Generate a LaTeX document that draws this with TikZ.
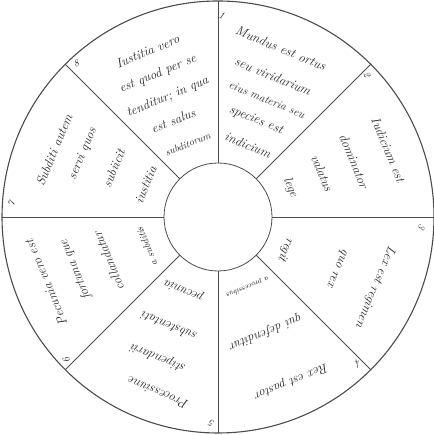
\documentclass[tikz,border=0pt]{standalone}
\usepackage{tikz}
\usetikzlibrary{calc}
\begin{document}
\begin{tikzpicture}[x=1pt, y=1pt,
    verse/.style={font=\fontsize{13}{15}\selectfont\itshape, text=black!85, inner sep=0pt},
    small verse/.style={verse, font=\fontsize{10}{12}\selectfont\itshape},
    tiny verse/.style={verse, font=\fontsize{7.5}{9}\selectfont\itshape},
    numeral/.style={font=\fontsize{10}{11}\selectfont\itshape, text=black!85, inner sep=0pt},
    spoke/.style={draw=black!70, line width=0.8pt}]
\useasboundingbox (0,0) rectangle (433,435);
\coordinate (c) at (218,218);
\draw[spoke, line width=1.1pt] (c) circle (216);
\draw[spoke] (c) circle (54);
\foreach \a in {0,45,...,315}
    \draw[spoke] ($(c)+(\a:54)$) -- ($(c)+(\a:216)$);

% sector 1
\foreach \a/\r/\t [count=\k] in {69.6/180/Mundus est ortus, 68.7/151/seu viridarium, 68.6/104/species est, 67.4/78/indicium}
    \node[verse, rotate=-22.5] (mundus\k) at ($(c)+(\a:\r)$) {\t};
\node[verse, font=\fontsize{11.5}{13}\selectfont\itshape, rotate=-22.5] (mundus5) at ($(c)+(67.3:127)$) {eius materia seu};
% sector 2
\foreach \a/\r/\t [count=\k] in {21.5/183/Iudicium est, 22.4/147/dominator, 22.9/113/valatus, 22/78/lege}
    \node[verse, rotate=-67.5] (iudicium\k) at ($(c)+(\a:\r)$) {\t};
% sector 3
\foreach \a/\r/\t [count=\k] in {-24/172/Lex est regimen, -23.2/129/quo rex, -26/75/regit}
    \node[verse, rotate=-112.5] (lex\k) at ($(c)+(\a:\r)$) {\t};
% sector 4
\foreach \a/\r/\t [count=\k] in {-66/180/Rex est pastor, -67.5/125/qui defenditur}
    \node[verse, rotate=-157.5] (rex\k) at ($(c)+(\a:\r)$) {\t};
\node[tiny verse, rotate=-157.5] (rex3) at ($(c)+(-67:76)$) {a processibus};
% sector 5
\foreach \a/\r/\t [count=\k] in {-108.8/186/Processiune, -113/153/stipendarii, -114/120/substentati, -114.7/81/pecunia}
    \node[verse, rotate=157.5] (processiune\k) at ($(c)+(\a:\r)$) {\t};
% sector 6
\foreach \a/\r/\t [count=\k] in {201/184/Pecunia vero est, 200.3/152/fortuna que, 202/118/collandatur}
    \node[verse, rotate=112.5] (pecunia\k) at ($(c)+(\a:\r)$) {\t};
\node[small verse, rotate=112.5] (pecunia4) at ($(c)+(202.5:77)$) {a subditis};
% sector 7
\foreach \a/\r/\t [count=\k] in {157.8/177/Subditi autem, 155/149/servi quos, 155/115/subiicit, 156/79/iustitia}
    \node[verse, rotate=67.5] (subditi\k) at ($(c)+(\a:\r)$) {\t};
% sector 8
\foreach \a/\r/\t [count=\k] in {113/180/Iustitia vero, 112.8/155/est quod per se, 112.8/130/{tenditur; in qua}, 115/106/est salus}
    \node[verse, rotate=22.5] (iustitia\k) at ($(c)+(\a:\r)$) {\t};
\node[small verse, rotate=22.5] (iustitia5) at ($(c)+(112.5:79)$) {subditorum};

% numbers
\foreach \n/\a/\r/\o in {1/88.9/202/-22.5, 2/43.6/206/-67.5, 3/357.2/204/-112.5, 4/313.6/203/-157.5, 5/268.3/207/157.5, 6/223.5/209/112.5, 7/176.4/207/67.5, 8/132.7/209/22.5}
    \node[numeral, rotate=\o] (num\n) at ($(c)+(\a:\r)$) {\n};
\end{tikzpicture}
\end{document}
